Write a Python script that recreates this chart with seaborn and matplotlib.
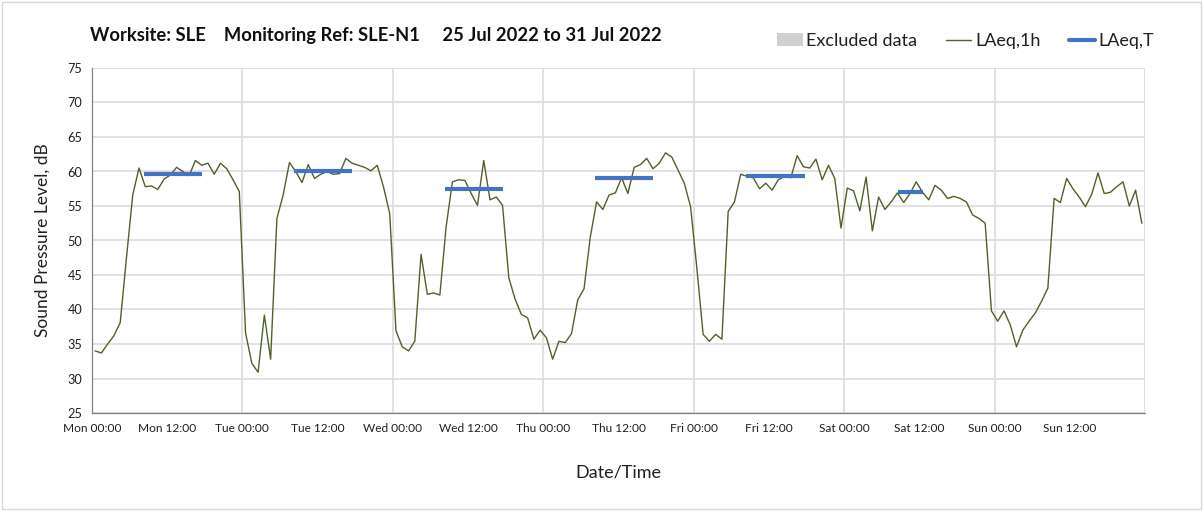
import numpy as np
import pandas as pd
import matplotlib.pyplot as plt
import seaborn as sns
from matplotlib.patches import Patch, Rectangle
from matplotlib.lines import Line2D

# hourly LAeq,1h readings, Mon 00:00 .. Sun 23:00
laeq_1h = [
    # Mon
    34.0, 33.7, 35.0, 36.2, 38.1, 47.5, 56.6, 60.5, 57.8, 57.9, 57.4, 58.9,
    59.5, 60.6, 60.0, 59.4, 61.6, 60.9, 61.2, 59.6, 61.2, 60.4, 58.8, 57.1,
    # Tue
    36.6, 32.2, 30.9, 39.2, 32.8, 53.2, 56.6, 61.3, 60.0, 58.4, 61.0, 59.0,
    59.6, 60.0, 59.6, 59.7, 61.9, 61.2, 60.9, 60.6, 60.1, 60.9, 57.8, 53.9,
    # Wed
    36.9, 34.6, 34.0, 35.4, 48.0, 42.2, 42.4, 42.1, 52.0, 58.5, 58.8, 58.7,
    56.8, 55.1, 61.6, 55.9, 56.3, 55.1, 44.6, 41.5, 39.3, 38.8, 35.7, 37.0,
    # Thu
    35.9, 32.8, 35.4, 35.2, 36.5, 41.4, 43.0, 50.5, 55.6, 54.5, 56.6, 56.9,
    59.1, 56.8, 60.6, 61.0, 61.9, 60.4, 61.2, 62.7, 62.1, 60.2, 58.3, 54.9,
    # Fri
    46.0, 36.4, 35.4, 36.4, 35.7, 54.2, 55.6, 59.6, 59.3, 59.1, 57.5, 58.3,
    57.3, 58.8, 59.3, 59.1, 62.3, 60.7, 60.5, 61.8, 58.8, 60.9, 59.0, 51.8,
    # Sat
    57.6, 57.2, 54.3, 59.2, 51.4, 56.3, 54.5, 55.6, 56.9, 55.5, 56.8, 58.5,
    57.0, 55.9, 58.0, 57.3, 56.1, 56.4, 56.1, 55.6, 53.7, 53.2, 52.5, 39.8,
    # Sun
    38.3, 39.8, 37.8, 34.6, 37.0, 38.3, 39.5, 41.2, 43.1, 56.1, 55.5, 59.0,
    57.5, 56.3, 54.9, 56.7, 59.8, 56.8, 57.0, 57.8, 58.5, 55.0, 57.3, 52.5,
]

# LAeq,T daytime periods (hours from Mon 00:00)
laeqt_start = [8.3, 32.3, 56.3, 80.3, 104.4, 128.6]
laeqt_end = [17.5, 41.5, 65.5, 89.5, 113.7, 132.6]
laeqt_value = [59.7, 60.1, 57.5, 59.1, 59.4, 57.1]

days = ["Mon", "Tue", "Wed", "Thu", "Fri", "Sat", "Sun"]
tick_labels = [f"{d} {t}" for d in days for t in ["00:00", "12:00"]]

title = "Worksite: SLE    Monitoring Ref: SLE-N1     25 Jul 2022 to 31 Jul 2022"

green = "#4f6228"
blue = "#4472c4"

df = pd.DataFrame({"hour": np.arange(len(laeq_1h)) + 0.5, "level": laeq_1h})

sns.set_style("white")
plt.rcParams["font.family"] = ["Lato", "DejaVu Sans"]

fig = plt.figure(figsize=(12.03, 5.11), dpi=100)
ax = fig.add_axes([92 / 1203, 1 - 413 / 511, (1145 - 92) / 1203, (413 - 68) / 511])

# grid
ax.set_axisbelow(True)
ax.yaxis.grid(True, color="#dedede", lw=1.3)
for d in range(1, 8):
    ax.axvline(d * 24, color="#dedede", lw=1.3, zorder=0)

sns.lineplot(data=df, x="hour", y="level", color=green, lw=1.0, ax=ax)
ax.hlines(laeqt_value, laeqt_start, laeqt_end, color=blue, lw=3.0, zorder=3)

ax.set_xlim(0, 168)
ax.set_ylim(25, 75)
ax.set_yticks(np.arange(25, 76, 5))
ax.set_xticks(np.arange(0, 168, 12))
ax.set_xticklabels(tick_labels)
ax.tick_params(axis="both", colors="#808080", labelcolor="#202020", length=4,
               width=0.8, direction="out", pad=3)
ax.tick_params(axis="x", labelsize=8.6)
ax.tick_params(axis="y", labelsize=9.2)
for side in ["top", "right"]:
    ax.spines[side].set_visible(False)
for side in ["left", "bottom"]:
    ax.spines[side].set_color("#808080")
    ax.spines[side].set_linewidth(0.9)

ax.set_xlabel("Date/Time", fontsize=13, color="#202020", labelpad=22)
ax.set_ylabel("Sound Pressure Level, dB", fontsize=12.5, color="#202020", labelpad=12)

fig.text(90 / 1203, 1 - 36 / 511, title, fontsize=13.2, fontweight="bold",
         color="#101010", va="center", ha="left")

handles = [
    Patch(facecolor="#d0d0d0", edgecolor="none"),
    Line2D([], [], color=green, lw=1.0),
    Line2D([], [], color=blue, lw=3.0),
]
fig.legend(handles, ["Excluded data", "LAeq,1h", "LAeq,T"], loc="center right",
           bbox_to_anchor=(1170 / 1203, 1 - 41 / 511), ncol=3, frameon=False,
           fontsize=13, handlelength=1.4, handletextpad=0.2, columnspacing=1.6,
           labelcolor="#202020")

# outer chart border
fig.patches.append(Rectangle((0.002, 0.004), 0.996, 0.992, transform=fig.transFigure,
                             fill=False, edgecolor="#d9d9d9", lw=1.0))

fig.savefig("out.png", dpi=100)
